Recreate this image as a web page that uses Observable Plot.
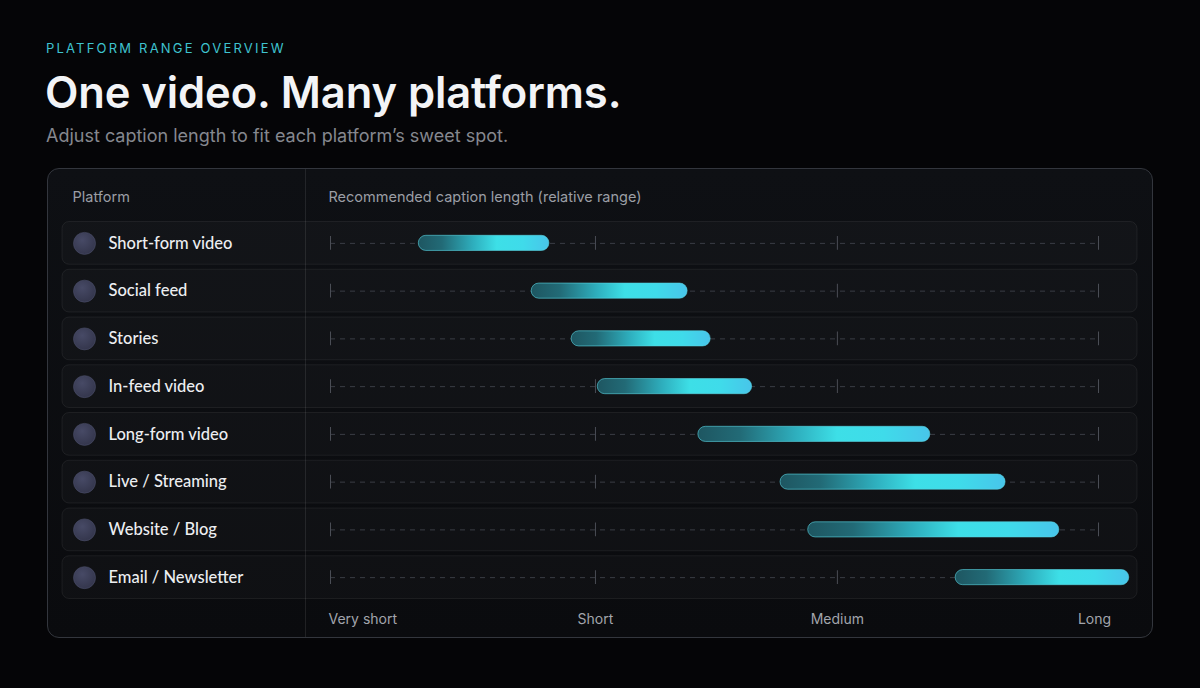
<!DOCTYPE html>
<html><head><meta charset="utf-8">
<script src="https://cdn.jsdelivr.net/npm/d3@7"></script>
<script src="https://cdn.jsdelivr.net/npm/@observablehq/plot@0.6"></script>
<style>
body{margin:0;background:#050507;width:1200px;height:688px;overflow:hidden;font-family:Inter,"Noto Sans",sans-serif;position:relative}
#eyebrow{position:absolute;left:46px;top:40px;font-size:13px;letter-spacing:2.2px;color:#3fc3cf;line-height:16px}
#title{position:absolute;left:45px;top:65px;font-size:43.5px;font-weight:600;color:#f3f4f6;line-height:54px;letter-spacing:-0.1px}
#subtitle{position:absolute;left:46px;top:124px;font-size:18px;color:#85888f;line-height:24px}
#panel{position:absolute;left:47px;top:168px;width:1104px;height:468px;border:1px solid #33363d;border-radius:12px;background:linear-gradient(180deg,#0e1014 0%,#0a0b0e 100%)}
#chart{position:absolute;left:0;top:168px;line-height:0}
#chart svg{display:block}
#divider{position:absolute;left:305px;top:169px;width:1px;height:468px;background:rgba(255,255,255,0.09);pointer-events:none}
</style></head><body>
<div id="eyebrow">PLATFORM RANGE OVERVIEW</div>
<div id="title">One video. Many platforms.</div>
<div id="subtitle">Adjust caption length to fit each platform’s sweet spot.</div>
<div id="panel"></div>
<div id="chart"></div>
<div id="divider"></div>
<script>
const platforms = ["Short-form video","Social feed","Stories","In-feed video","Long-form video","Live / Streaming","Website / Blog","Email / Newsletter"];
const rangeStart = [11.5, 26.2, 31.4, 34.8, 47.9, 58.6, 62.2, 81.4];
const rangeEnd   = [28.5, 46.5, 49.5, 54.9, 78.1, 87.9, 94.9, 104.0];
const tickLabels = ["Very short","Short","Medium","Long"];
const tickValues = [0, 34.5, 66, 100];
const columnHeader = "Platform";
const axisTitle = "Recommended caption length (relative range)";

const rows = platforms.map((p, i) => ({platform: p, start: rangeStart[i], end: rangeEnd[i]}));
const ticks = tickValues.map((v, i) => ({value: v, label: tickLabels[i]}));
const tickGrid = platforms.flatMap(p => tickValues.map(v => ({platform: p, value: v})));

const defs = () => {
  const d = d3.create("svg:defs");
  const g = d.append("linearGradient").attr("id", "barGrad").attr("x1", 0).attr("x2", 1).attr("y1", 0).attr("y2", 0);
  [[0, "#1e5661"], [0.18, "#226a76"], [0.42, "#2eaebd"], [0.6, "#3ddfe7"], [0.8, "#3fdbea"], [1, "#48c5ea"]].forEach(([o, c]) =>
    g.append("stop").attr("offset", o).attr("stop-color", c));
  const rg = d.append("radialGradient").attr("id", "dotGrad").attr("cx", 0.4).attr("cy", 0.35).attr("r", 0.7);
  rg.append("stop").attr("offset", 0).attr("stop-color", "#474a66");
  rg.append("stop").attr("offset", 1).attr("stop-color", "#33354b");
  const f = d.append("filter").attr("id", "glow").attr("x", "-10%").attr("y", "-10%").attr("width", "120%").attr("height", "120%");
  f.append("feGaussianBlur").attr("in", "SourceGraphic").attr("stdDeviation", 5).attr("result", "b");
  f.append("feColorMatrix").attr("in", "b").attr("type", "matrix")
    .attr("values", "1 0 0 0 0  0 1 0 0 0  0 0 1 0 0  0 0 0 0.45 0").attr("result", "b2");
  const m = f.append("feMerge");
  m.append("feMergeNode").attr("in", "b2");
  m.append("feMergeNode").attr("in", "SourceGraphic");
  return d.node();
};

const chart = Plot.plot({
  width: 1200,
  height: 472,
  marginLeft: 62,
  marginRight: 63,
  marginTop: 0,
  marginBottom: 0,
  style: {background: "transparent", fontFamily: "Inter, 'Noto Sans', sans-serif"},
  x: {domain: [0, 100], range: [330, 1098], axis: null},
  y: {type: "band", domain: platforms, range: [51, 433], padding: 0, round: false, axis: null},
  marks: [
    defs,
    Plot.cell(rows, {y: "platform", insetTop: 2.5, insetBottom: 2.5, rx: 7, fill: "rgba(255,255,255,0.022)", stroke: "rgba(255,255,255,0.065)", strokeWidth: 1}),
    Plot.ruleY(rows, {y: "platform", x1: () => tickValues[0], x2: () => tickValues[tickValues.length - 1], stroke: "#3a3d45", strokeDasharray: "5,5", strokeWidth: 1}),
    Plot.tickX(tickGrid, {x: "value", y: "platform", stroke: "#4a4d55", strokeWidth: 1, insetTop: 17, insetBottom: 17}),
    Plot.barX(rows, {y: "platform", x1: "start", x2: "end", insetTop: 16.3, insetBottom: 16.3, rx: 7.5, fill: "url(#barGrad)", stroke: "#5ad6e2", strokeOpacity: 0.6, strokeWidth: 1, ariaLabel: "bars"}),
    Plot.dot(rows, {y: "platform", frameAnchor: "left", dx: 22, r: 11, fill: "url(#dotGrad)", stroke: "#4a4d68", strokeWidth: 0.6}),
    Plot.text(rows, {y: "platform", text: "platform", frameAnchor: "left", dx: 46, textAnchor: "start", fill: "#eceef1", fontSize: 16.5, fontWeight: 500, fontFamily: "Lato, Inter, sans-serif"}),
    Plot.text([columnHeader], {text: d => d, frameAnchor: "top-left", dx: 10, dy: 29, textAnchor: "start", lineAnchor: "middle", fill: "#9b9ea5", fontSize: 14.5}),
    Plot.text([axisTitle], {x: () => tickValues[0], text: d => d, frameAnchor: "top", dx: -2, dy: 29, textAnchor: "start", lineAnchor: "middle", fill: "#9b9ea5", fontSize: 14.5}),
    Plot.text(ticks.slice(0, 1), {x: "value", text: "label", frameAnchor: "bottom", dx: -2, dy: -21, textAnchor: "start", lineAnchor: "middle", fill: "#a2a5ac", fontSize: 14}),
    Plot.text(ticks.slice(1, 3), {x: "value", text: "label", frameAnchor: "bottom", dy: -21, dx: 0, textAnchor: "middle", lineAnchor: "middle", fill: "#a2a5ac", fontSize: 14}),
    Plot.text(ticks.slice(3), {x: "value", text: "label", frameAnchor: "bottom", dy: -21, dx: -4, textAnchor: "middle", lineAnchor: "middle", fill: "#a2a5ac", fontSize: 14})
  ]
});
d3.select(chart).select('g[aria-label="bars"]').attr("filter", "url(#glow)");
document.getElementById("chart").appendChild(chart);
</script>
</body></html>
